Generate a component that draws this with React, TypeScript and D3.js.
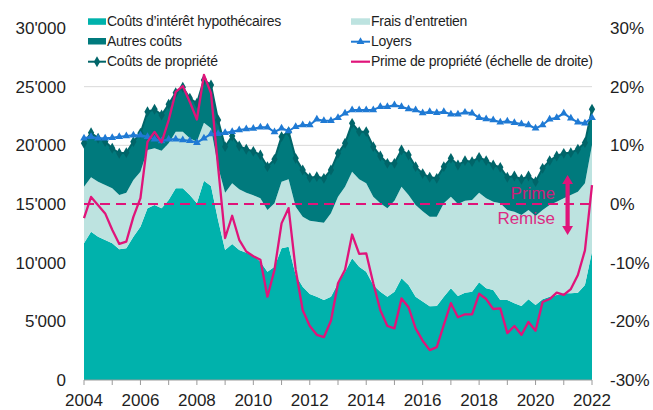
import React from "react";
import * as d3 from "d3";

const startYear = 2004;
const xTickYears = [2004, 2006, 2008, 2010, 2012, 2014, 2016, 2018, 2020, 2022];
const leftTicks = [0, 5000, 10000, 15000, 20000, 25000, 30000];
const rightTicks = [-30, -20, -10, 0, 10, 20, 30];

// Quarterly values 2004Q1 .. 2022Q1 (CHF)
const interest = [11651,12640,12214,11932,11651,11140,11225,12214,13066,14634,14915,14634,15341,16339,16339,15768,15060,16986,16535,13637,11080,11591,11080,10850,10650,10083,9230,9656,11225,11361,8949,7952,7330,7100,6818,7100,8242,9230,10372,9656,9230,8097,7526,7100,7526,8668,8097,7100,6700,6280,6307,7100,7815,7159,7441,7526,8327,7815,7671,6818,6818,6537,6307,6878,6392,6878,7100,7245,7389,7389,7441,8097,10935];
const maintenance = [4824,4636,4687,4688,4688,4628,4738,4832,4688,4969,4833,4909,4833,4827,4827,4832,5250,4944,4917,4545,4883,5174,5173,5113,5090,5403,5259,5404,5676,5745,5821,5966,6247,6392,6588,7108,7380,7245,7382,7450,7535,7525,7534,7534,7755,7807,7671,7815,7680,7638,7611,7960,7807,7841,7840,7815,7636,7671,7526,8242,7671,7807,7756,7611,7586,7611,7815,7952,8097,8379,8608,8668,9094];
const otherCosts = [3699,3802,3699,3690,3409,3554,3410,3264,3272,3264,3324,3043,3324,3321,3781,3409,3273,3639,3691,3978,3921,4031,3691,3700,3750,3691,3693,3747,3838,4060,4122,3980,3668,3838,3782,3690,3697,3699,4121,4060,4401,4262,4031,3832,3185,3128,3409,3267,3210,3358,3270,3122,3270,3324,3412,3267,3014,3207,3127,3065,2787,3043,3043,2898,2926,3551,3778,3894,3833,3605,3614,3460,3043];
const rents = [20600,20739,20600,20600,20654,20739,20796,20853,20853,20739,20512,20370,20512,20512,20455,20400,20226,20600,20966,20995,21078,21166,21307,21393,21430,21537,21537,21137,21452,21222,21589,21734,21734,22219,22100,22100,22356,22731,23012,23012,23012,23012,23294,23294,23438,23294,23097,23012,22760,22867,22782,22867,22645,22645,22811,22731,22356,22245,22160,21962,22050,21930,21819,21734,21452,21734,22219,22356,22731,22304,21962,21875,22356];
// Ownership premium (%), right axis
const premium = [-2.4,1.2,-0.2,-1.6,-4.4,-6.8,-6.4,-2.2,1.0,10.6,12.3,10.5,14.3,19.1,20.1,17.4,14.4,22.0,18.9,6.4,-5.8,-2.0,-6.1,-8.1,-8.9,-9.5,-15.8,-11.2,-3.3,-0.7,-11.2,-18.1,-20.8,-22.3,-22.7,-19.9,-13.5,-11.2,-5.2,-8.5,-8.4,-13.5,-18.1,-20.8,-21.2,-16.1,-17.6,-21.2,-23.3,-24.9,-24.4,-20.6,-16.9,-19.3,-18.8,-18.8,-15.3,-16.2,-17.9,-17.8,-22.0,-20.8,-22.3,-20.1,-21.6,-16.7,-16.2,-15.1,-15.5,-14.5,-12.1,-7.9,3.2];

const seriesLabels = {
  interest: "Coûts d’intérêt hypothécaires",
  maintenance: "Frais d’entretien",
  other: "Autres coûts",
  rents: "Loyers",
  total: "Coûts de propriété",
  premium: "Prime de propriété (échelle de droite)",
};

const C = {
  interest: "#00b2ac",
  maintenance: "#bde3e0",
  other: "#007a7d",
  totalLine: "#006569",
  rents: "#1f7ad4",
  premium: "#e0147a",
  grid: "#d9d9d9",
  text: "#1e1e1e",
};

const FONT = "'Liberation Sans', Arial, Helvetica, sans-serif";

export default function App() {
  const W = 653, H = 410;
  const x = d3.scaleLinear().domain([2004, 2022]).range([84, 592]);
  const y = d3.scaleLinear().domain([0, 30000]).range([380, 28]);
  const yR = d3.scaleLinear().domain([-30, 30]).range([380, 28]);

  const rows = interest.map((v, i) => ({
    t: startYear + i / 4,
    interest: v,
    maintenance: maintenance[i],
    other: otherCosts[i],
    rents: rents[i],
    premium: premium[i],
  }));
  const stack = d3.stack<any>().keys(["interest", "maintenance", "other"])(rows);
  const area = d3.area<any>()
    .x((d) => x(d.data.t))
    .y0((d) => y(d[0]))
    .y1((d) => y(d[1]));
  const totals = rows.map((r) => ({ t: r.t, v: r.interest + r.maintenance + r.other }));
  const line = d3.line<any>().x((d) => x(d.t)).y((d) => y(d.v));
  const rentLine = d3.line<any>().x((d) => x(d.t)).y((d) => y(d.rents));
  const premLine = d3.line<any>().x((d) => x(d.t)).y((d) => yR(d.premium));
  const diamond = d3.symbol().type(d3.symbolDiamond).size(34)()!;
  const triangle = d3.symbol().type(d3.symbolTriangle).size(26)()!;
  const fills = [C.interest, C.maintenance, C.other];

  const allYears = d3.range(2004, 2023);

  const lx = 88, lx2 = 351;
  const legendRows = [25.7, 45.7, 65.7];

  return (
    <svg width={W} height={H} style={{ position: "absolute", left: 0, top: 0, background: "#fff" }}
      fontFamily={FONT}>
      {/* gridlines */}
      {leftTicks.filter((t) => t > 0 && t < 30000).map((t) => (
        <line key={t} x1={x(2004)} x2={x(2022)} y1={y(t)} y2={y(t)} stroke={C.grid} strokeWidth={1} />
      ))}
      {/* stacked areas */}
      {stack.map((s, k) => (
        <path key={k} d={area(s)!} fill={fills[k]} />
      ))}
      {/* total line with diamonds */}
      <path d={line(totals)!} fill="none" stroke={C.totalLine} strokeWidth={2} />
      {totals.map((d, i) => (
        <path key={i} d={diamond} transform={`translate(${x(d.t)},${y(d.v)})`} fill={C.totalLine} />
      ))}
      {/* rents */}
      <path d={rentLine(rows)!} fill="none" stroke={C.rents} strokeWidth={2} />
      {rows.map((d, i) => (
        <path key={i} d={triangle} transform={`translate(${x(d.t)},${y(d.rents)})`} fill={C.rents} />
      ))}
      {/* zero premium dashed line */}
      <line x1={x(2004)} x2={x(2022)} y1={yR(0)} y2={yR(0)} stroke={C.premium} strokeWidth={2}
        strokeDasharray="10,6" />
      {/* premium line */}
      <path d={premLine(rows)!} fill="none" stroke={C.premium} strokeWidth={2.3} strokeLinejoin="round" />

      {/* annotation */}
      <g fill={C.premium} opacity={0.9}>
        <text x={555} y={199} textAnchor="end" fontSize={17} fontWeight={300}>Prime</text>
        <text x={555} y={224} textAnchor="end" fontSize={17} fontWeight={300}>Remise</text>
      </g>
      <g fill={C.premium}>
        <rect x={565.5} y={181} width={4.2} height={48} />
        <path d="M567.6,175 L573,184 L562.2,184 Z" />
        <path d="M567.6,235 L573,226 L562.2,226 Z" />
      </g>

      {/* x axis */}
      <line x1={x(2004)} x2={x(2022)} y1={380} y2={380} stroke="#9a9a9a" strokeWidth={1} />
      {allYears.map((yr) => (
        <line key={yr} x1={x(yr)} x2={x(yr)} y1={380} y2={385} stroke="#9a9a9a" strokeWidth={1} />
      ))}
      {xTickYears.map((yr) => (
        <text key={yr} x={x(yr)} y={406} textAnchor="middle" fontSize={17} fill={C.text}>{yr}</text>
      ))}
      {/* left axis */}
      {leftTicks.map((t) => (
        <text key={t} x={66} y={y(t) + 6} textAnchor="end" fontSize={17} fill={C.text}>
          {d3.format(",")(t).replace(/,/g, "'")}
        </text>
      ))}
      {/* right axis */}
      {rightTicks.map((t) => (
        <text key={t} x={610} y={yR(t) + 6} textAnchor="start" fontSize={17} fill={C.text}>
          {t + "%"}
        </text>
      ))}

      {/* legend */}
      <g fontSize={14} fill={C.text} letterSpacing={-0.25}>
        <rect x={lx} y={18.3} width={18} height={6.5} fill={C.interest} />
        <text x={lx + 19} y={legendRows[0]}>{seriesLabels.interest}</text>
        <rect x={lx} y={38} width={18} height={6.5} fill={C.other} />
        <text x={lx + 19} y={legendRows[1]}>{seriesLabels.other}</text>
        <line x1={lx} x2={lx + 18} y1={61.7} y2={61.7} stroke={C.totalLine} strokeWidth={2} />
        <path d={diamond} transform={`translate(${lx + 9},61.7)`} fill={C.totalLine} />
        <text x={lx + 19} y={legendRows[2]}>{seriesLabels.total}</text>

        <rect x={lx2} y={18.3} width={19} height={6.5} fill={C.maintenance} />
        <text x={lx2 + 20} y={legendRows[0]}>{seriesLabels.maintenance}</text>
        <line x1={lx2} x2={lx2 + 19} y1={41.7} y2={41.7} stroke={C.rents} strokeWidth={2} />
        <path d={triangle} transform={`translate(${lx2 + 9.5},41.7)`} fill={C.rents} />
        <text x={lx2 + 20} y={legendRows[1]}>{seriesLabels.rents}</text>
        <line x1={lx2} x2={lx2 + 19} y1={61.7} y2={61.7} stroke={C.premium} strokeWidth={2.2} />
        <text x={lx2 + 20} y={legendRows[2]}>{seriesLabels.premium}</text>
      </g>
    </svg>
  );
}
